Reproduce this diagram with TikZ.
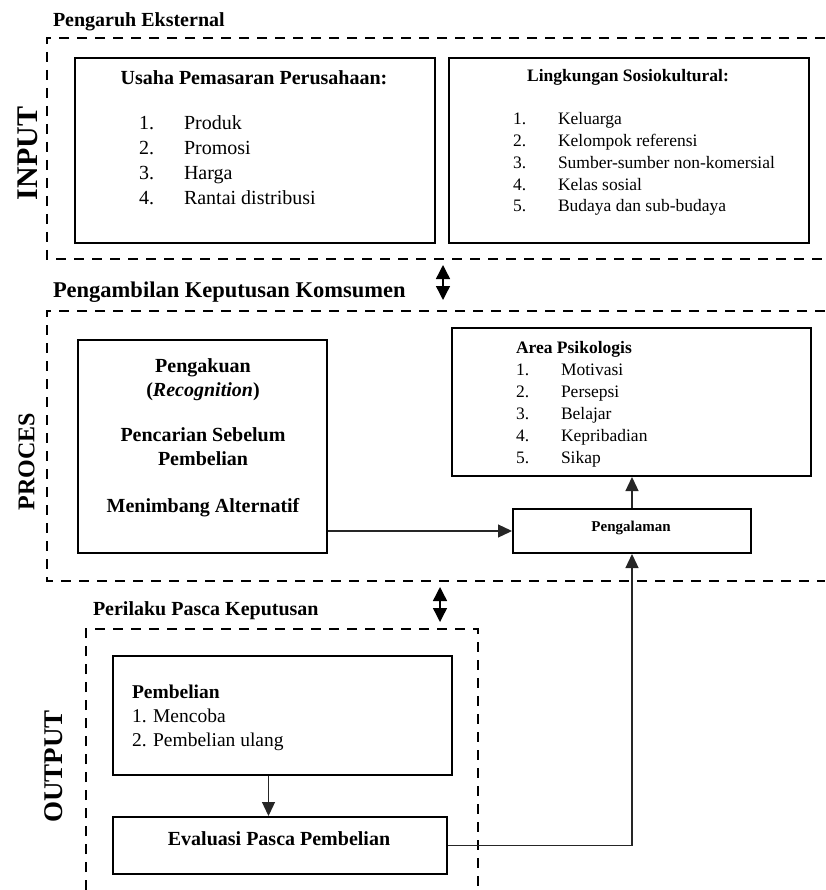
\documentclass[tikz,border=0pt]{standalone}
\usepackage{fontspec}
\setmainfont{Liberation Serif}
\usetikzlibrary{arrows.meta,positioning,calc}

\tikzset{
  group/.style={line width=1.8pt, dash pattern=on 10pt off 8pt},
  box/.style={draw, line width=2pt, anchor=north west, inner sep=0pt},
  txt/.style={inner sep=0pt, outer sep=0pt},
  head/.style={txt, anchor=base west, font=\fontsize{20}{24}\selectfont\bfseries},
  side/.style={txt, rotate=90},
  link/.style={line width=1.3pt, draw=black!85, -{Triangle[width=13pt,length=14pt]}},
  both/.style={line width=1.4pt, {Triangle[width=14pt,length=14pt]}-{Triangle[width=14pt,length=14pt]}}
}

\begin{document}
\begin{tikzpicture}[x=1pt,y=-1pt]
  \useasboundingbox (0,0) rectangle (825,890);
  % dashed frames
  \draw[group] (825,38) -- (47,38) -- (47,259) -- (825,259);
  \draw[group] (825,311) -- (47,311) -- (47,581) -- (825,581);
  \draw[group] (86,890) -- (86,629) -- (478,629) -- (478,890);

  % headings and side labels
  \node[head] (hext) at (53,27) {Pengaruh Eksternal};
  \node[head, font=\fontsize{22.5}{26}\selectfont\bfseries] (hproc) at (53,298) {Pengambilan Keputusan Komsumen};
  \node[head] (hpost) at (93,615) {Perilaku Pasca Keputusan};
  \node[side, font=\fontsize{30}{30}\selectfont\bfseries] (lin) at (27.5,153.5) {INPUT};
  \node[side, font=\fontsize{24}{24}\selectfont\bfseries] (lproc) at (26.5,461.5) {PROCES};
  \node[side, font=\fontsize{27}{27}\selectfont\bfseries] (lout) at (54,766.5) {OUTPUT};

  % input
  \node[box, minimum width=360pt, minimum height=185pt] (usaha) at (74,57) {};
  \node[txt, anchor=base, font=\fontsize{20}{25}\selectfont\bfseries] (usahat) at (254,85) {Usaha Pemasaran Perusahaan:};
  \node[txt, anchor=base west, font=\fontsize{20}{25}\selectfont] (usahal) at (139,130)
    {\begin{tabular}[t]{@{}p{45pt}@{}l@{}}1.&Produk\\2.&Promosi\\3.&Harga\\4.&Rantai distribusi\end{tabular}};
  \node[box, minimum width=360pt, minimum height=185pt] (sosio) at (448,57) {};
  \node[txt, anchor=base, font=\fontsize{17.5}{21.7}\selectfont\bfseries] (sosiot) at (628,82) {Lingkungan Sosiokultural:};
  \node[txt, anchor=base west, font=\fontsize{17.5}{21.7}\selectfont] (sosiol) at (513,125)
    {\begin{tabular}[t]{@{}p{45pt}@{}l@{}}1.&Keluarga\\2.&Kelompok referensi\\3.&Sumber-sumber non-komersial\\4.&Kelas sosial\\5.&Budaya dan sub-budaya\end{tabular}};

  % process
  \node[box, minimum width=249pt, minimum height=213pt] (kenal) at (77,339) {};
  \node[txt, anchor=base, font=\fontsize{20}{24}\selectfont\bfseries] (kenalt) at (203,372)
    {\begin{tabular}[t]{@{}c@{}}Pengakuan\\(\textit{Recognition})\\[21pt]Pencarian Sebelum\\Pembelian\\[23pt]Menimbang Alternatif\end{tabular}};
  \node[box, minimum width=359pt, minimum height=148pt] (psiko) at (451,327) {};
  \node[txt, anchor=base west, font=\fontsize{17.5}{22}\selectfont\bfseries] (psikot) at (516,353) {Area Psikologis};
  \node[txt, anchor=base west, font=\fontsize{17.5}{22}\selectfont] (psikol) at (516,375)
    {\begin{tabular}[t]{@{}p{45pt}@{}l@{}}1.&Motivasi\\2.&Persepsi\\3.&Belajar\\4.&Kepribadian\\5.&Sikap\end{tabular}};
  \node[box, minimum width=238pt, minimum height=44pt] (alam) at (512,508) {};
  \node[txt, anchor=base, font=\fontsize{15}{18}\selectfont\bfseries] (alamt) at (631,531) {Pengalaman};

  % output
  \node[box, minimum width=339pt, minimum height=119pt] (beli) at (112,655) {};
  \node[txt, anchor=base west, font=\fontsize{19.5}{24}\selectfont] (belil) at (132,698)
    {\begin{tabular}[t]{@{}l@{}}\textbf{Pembelian}\\1. Mencoba\\2. Pembelian ulang\end{tabular}};
  \node[box, minimum width=334pt, minimum height=57pt] (eval) at (112,816) {};
  \node[txt, anchor=base, font=\fontsize{20}{24}\selectfont\bfseries] (evalt) at (279,845) {Evaluasi Pasca Pembelian};

  % connectors
  \draw[link] (alam.west -| kenal.east) -- (alam.west);
  \draw[link] (alam.north) -- (alam.north |- psiko.south);
  \draw[link] ([xshift=-14pt]beli.south) -- ([xshift=-14pt]beli.south |- eval.north);
  \draw[link] (eval.east) -| (alam.south);
  \coordinate (inbot) at (443,265);
  \coordinate (proctop) at (443,300);
  \coordinate (procbot) at (440,587);
  \coordinate (outtop) at (440,622);
  \draw[both] (inbot) -- (proctop);
  \draw[both] (procbot) -- (outtop);
\end{tikzpicture}
\end{document}
